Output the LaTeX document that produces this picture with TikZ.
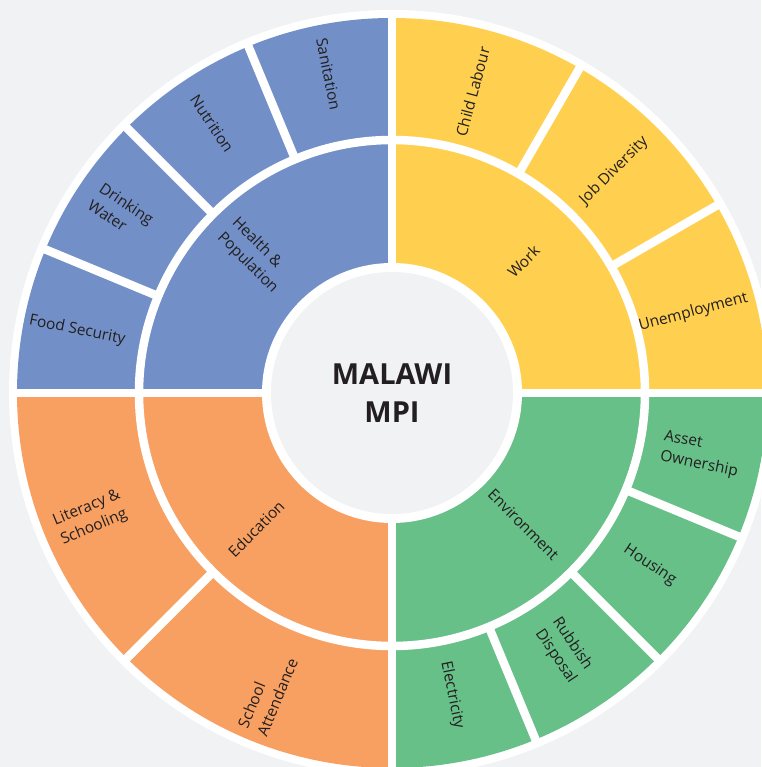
\documentclass[tikz,border=0pt]{standalone}
\usepackage{fontspec}
\setmainfont{Open Sans}
\usetikzlibrary{positioning}

\definecolor{paper}{HTML}{F1F2F4}
\definecolor{healthblue}{HTML}{7290C7}
\definecolor{workyellow}{HTML}{FFD04F}
\definecolor{eduorange}{HTML}{F8A062}
\definecolor{envgreen}{HTML}{66C088}
\definecolor{ink}{HTML}{231F20}

\begin{document}
\begin{tikzpicture}[
        x=0.02cm, y=0.02cm,
        every node/.style={align=left, text=ink, inner sep=0pt},
        lbl/.style={font=\fontsize{8.8}{11.8}\selectfont},
        title/.style={font=\fontsize{16.5}{22}\selectfont\bfseries, align=center},
        gap/.style={draw=white, line width=0.17cm}
    ]

    % Canvas and white rim
    \useasboundingbox[fill=paper] (-392,-374) rectangle (369,393);
    \fill[white] (0,0) circle[radius=383];

    % Quarters
    \fill[workyellow] (0,0) -- (0:375) arc[start angle=0, end angle=90, radius=375] -- cycle;
    \fill[healthblue] (0,0) -- (90:375) arc[start angle=90, end angle=180, radius=375] -- cycle;
    \fill[eduorange] (0,0) -- (180:375) arc[start angle=180, end angle=270, radius=375] -- cycle;
    \fill[envgreen] (0,0) -- (270:375) arc[start angle=270, end angle=360, radius=375] -- cycle;

    % Gaps
    \draw[gap] (-380,0) -- (380,0);
    \draw[gap] (0,-380) -- (0,380);
    \draw[gap] (0,0) circle[radius=253];
    \draw[gap] (30:253) -- (30:380);
    \draw[gap] (60:253) -- (60:380);
    \draw[gap] (112.5:253) -- (112.5:380);
    \draw[gap] (135:253) -- (135:380);
    \draw[gap] (157.5:253) -- (157.5:380);
    \draw[gap] (225:253) -- (225:380);
    \draw[gap] (292.5:253) -- (292.5:380);
    \draw[gap] (315:253) -- (315:380);
    \draw[gap] (337.5:253) -- (337.5:380);

    % Hub
    \fill[white] (0,0) circle[radius=130];
    \fill[paper] (0,0) circle[radius=121];
    \node[title] (mpi) at (0,0) {MALAWI\\MPI};

    % Inner ring
    \node[lbl, rotate=45] (work) at (45:186) {Work};
    \node[lbl, rotate=-45] (health) at (135:194) {Health \&\\Population};
    \node[lbl, rotate=45] (edu) at (225:192) {Education};
    \node[lbl, rotate=-45] (env) at (315:186) {Environment};

    % Outer ring
    \node[lbl, rotate=75] (child) at (75:312) {Child Labour};
    \node[lbl, rotate=45] (jobs) at (45:314) {Job Diversity};
    \node[lbl, rotate=15] (unemp) at (15:312) {Unemployment};

    \node[lbl, rotate=-78.75] (sanit) at (101.25:325) {Sanitation};
    \node[lbl, rotate=-56.25] (nutr) at (123.75:324) {Nutrition};
    \node[lbl, rotate=-33.75] (water) at (146.25:326) {Drinking\\Water};
    \node[lbl, rotate=-11.25] (food) at (168.75:321) {Food Security};

    \node[lbl, rotate=22.5] (literacy) at (202.5:326) {Literacy \&\\Schooling};
    \node[lbl, rotate=67.5] (school) at (247.5:325) {School\\Attendance};

    \node[lbl, rotate=-78.75] (elec) at (281.25:308) {Electricity};
    \node[lbl, rotate=-56.25] (rubbish) at (303.75:310) {Rubbish\\Disposal};
    \node[lbl, rotate=-33.75] (housing) at (326.25:310) {Housing};
    \node[lbl, rotate=-11.25] (asset) at (348.75:315) {Asset\\Ownership};

\end{tikzpicture}
\end{document}
